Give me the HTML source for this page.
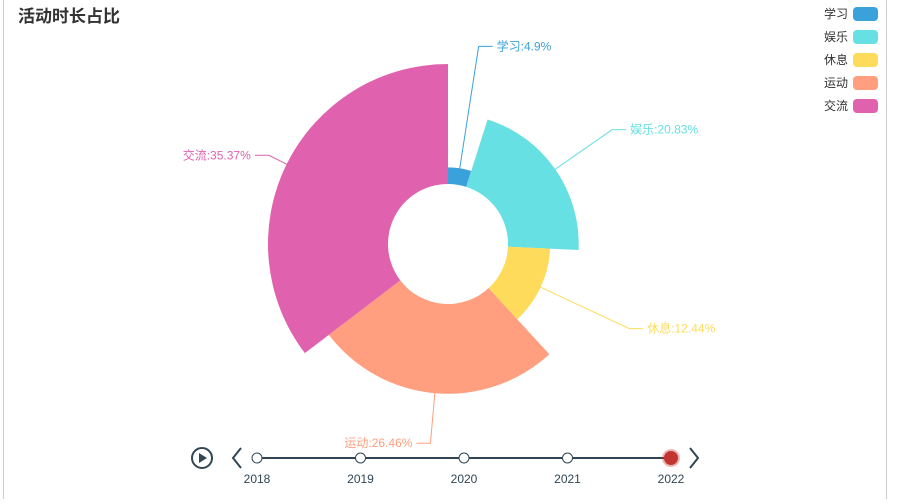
<!DOCTYPE html>
<html><head><meta charset="utf-8"><style>
body{margin:0;background:#fff;width:899px;height:499px;overflow:hidden;font-family:"Liberation Sans","Noto Sans CJK SC",sans-serif}
</style></head><body>
<svg width="899" height="499" font-family="Liberation Sans, Noto Sans CJK SC, sans-serif">
<line x1="3.5" y1="0" x2="3.5" y2="499" stroke="#ccc"/>
<line x1="886.5" y1="0" x2="886.5" y2="499" stroke="#ccc"/>
<text x="18" y="22" font-size="17" font-weight="bold" fill="#333">活动时长占比</text>
<g id="slices"></g><g id="labels"></g><g id="legend"></g><g id="timeline"></g>
</svg>
<script>
const categories=["学习","娱乐","休息","运动","交流"];
const values=[4.9,20.83,12.44,26.46,35.37];
const colors=["#3ba1da","#67e0e3","#ffdb5c","#ff9f7f","#e062ae"];
const years=["2018","2019","2020","2021","2022"];
const NS="http://www.w3.org/2000/svg";
const cx=448,cy=244,r0=60,rMax=180;
function mk(t,a,p){const e=document.createElementNS(NS,t);for(const k in a)e.setAttribute(k,a[k]);p.appendChild(e);return e;}
const total=values.reduce((a,b)=>a+b,0),maxV=Math.max(...values);
const rScale=v=>r0+v/maxV*(rMax-r0);
const pt=(r,a)=>[cx+r*Math.sin(a),cy-r*Math.cos(a)];
const gS=document.getElementById('slices'),gL=document.getElementById('labels');
let acc=0;
values.forEach((v,i)=>{
 const a0=acc/total*2*Math.PI,a1=(acc+v)/total*2*Math.PI;acc+=v;
 const r=rScale(v),large=(a1-a0)>Math.PI?1:0;
 const [x0,y0]=pt(r,a0),[x1,y1]=pt(r,a1),[x2,y2]=pt(r0,a1),[x3,y3]=pt(r0,a0);
 const p=mk('path',{d:`M${x0},${y0}A${r},${r} 0 ${large} 1 ${x1},${y1}L${x2},${y2}A${r0},${r0} 0 ${large} 0 ${x3},${y3}Z`,fill:colors[i]},gS);
 
 
 const am=(a0+a1)/2,[sx,sy]=pt(r-4,am),[ex,ey]=pt(200,am);
 const right=Math.sin(am)>=0,hx=ex+(right?14:-14);
 const ln=mk('polyline',{points:`${sx},${sy} ${ex},${ey} ${hx},${ey}`,fill:'none',stroke:colors[i],'stroke-width':1},gL);
 
 
 const t=mk('text',{x:hx+(right?4:-4),y:ey+4,'font-size':12,fill:colors[i],'text-anchor':right?'start':'end'},gL);
 t.textContent=categories[i]+':'+(v/total*100).toFixed(2).replace(/\.?0+$/,'')+'%';
 
 
});
const gG=document.getElementById('legend');
categories.forEach((c,i)=>{
 const y=14+i*23;
 const t=mk('text',{x:848,y:y+4,'font-size':12,fill:'#333','text-anchor':'end'},gG);t.textContent=c;
 
 
 const s=mk('rect',{x:853,y:y-7,width:25,height:14,rx:4,fill:colors[i]},gG);
 
 
});
const gT=document.getElementById('timeline');
const ty=458,tx0=257,tx1=671;
const play=mk('g',{},gT);


mk('circle',{cx:202,cy:ty,r:10,fill:'none',stroke:'#304654','stroke-width':2},play);
mk('path',{d:`M199,${ty-5}L207,${ty}L199,${ty+5}Z`,fill:'#304654'},play);
const prev=mk('path',{d:`M241,${ty-10}L233,${ty}L241,${ty+10}`,fill:'none',stroke:'#304654','stroke-width':2},gT);


const next=mk('path',{d:`M690,${ty-10}L698,${ty}L690,${ty+10}`,fill:'none',stroke:'#304654','stroke-width':2},gT);


const axl=mk('line',{x1:tx0,y1:ty,x2:tx1,y2:ty,stroke:'#304654','stroke-width':2},gT);


years.forEach((y,i)=>{
 const x=tx0+i*(tx1-tx0)/(years.length-1),cur=i===years.length-1;
 if(cur){mk('circle',{cx:x,cy:ty,r:9,fill:'rgba(194,53,49,0.35)'},gT);}
 const d=mk('circle',{cx:x,cy:ty,r:cur?6.5:5,fill:cur?'#c23531':'#fff',stroke:cur?'#c23531':'#304654','stroke-width':1},gT);
 
 
 const t=mk('text',{x:x,y:ty+25,'font-size':12,fill:'#304654','text-anchor':'middle'},gT);t.textContent=y;
 
 
});
</script>
</body></html>
